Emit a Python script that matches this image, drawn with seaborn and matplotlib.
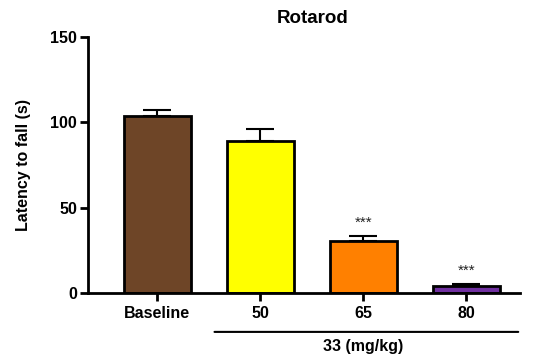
import matplotlib
matplotlib.use("Agg")
import matplotlib.pyplot as plt
import seaborn as sns
import pandas as pd
import numpy as np

categories = ["Baseline", "50", "65", "80"]
means = [104, 89, 30.5, 4]
sems = [3.5, 7, 3, 1.5]
colors = ["#6E4527", "#FFFF00", "#FF8000", "#7030A0"]
stars = ["", "", "***", "***"]
title = "Rotarod"
ylabel = "Latency to fall (s)"
group_label = "33 (mg/kg)"

sns.set_theme(style="ticks", rc={"axes.edgecolor": "black", "xtick.color": "black",
                                 "ytick.color": "black", "text.color": "black",
                                 "axes.labelcolor": "black"})
plt.rcParams['font.family'] = ['Liberation Sans', 'DejaVu Sans']

df = pd.DataFrame({"cat": categories, "val": means})
fig = plt.figure(figsize=(5.34, 3.56), dpi=100)
ax = fig.add_axes([0.1648, 0.177, 0.809, 0.719])
sns.barplot(data=df, x="cat", y="val", hue="cat", palette=colors, legend=False,
            width=0.65, edgecolor="black", linewidth=2, ax=ax, errorbar=None,
            saturation=1, zorder=2)
x = np.arange(len(categories))
ax.errorbar(x, means, yerr=[np.zeros(len(sems)), sems], fmt="none", ecolor="black",
            elinewidth=1.5, capsize=10, capthick=1.5, zorder=1)
for xi, m, s, st in zip(x, means, sems, stars):
    if st:
        ax.text(xi, m + s + 3.5, st, ha="center", va="bottom", fontsize=11, color="#222222")

ax.set_xlim(-0.67, 3.52)
ax.set_ylim(0, 150)
ax.set_yticks([0, 50, 100, 150])
for sp in ["top", "right"]:
    ax.spines[sp].set_visible(False)
for sp in ["left", "bottom"]:
    ax.spines[sp].set_linewidth(2)
ax.tick_params(axis="both", width=2, length=6, labelsize=11.5, direction="out",
               colors="black")
ax.tick_params(axis="y", pad=2)
for lab in ax.get_xticklabels() + ax.get_yticklabels():
    lab.set_fontweight("bold")
ax.set_xlabel("")
ax.set_ylabel(ylabel, fontsize=11.5, fontweight="bold", labelpad=14)
ax.set_title(title, fontsize=13.5, fontweight="bold", pad=10, x=0.52)

# grouping line under doses
ax.annotate("", xy=(0.53, -0.152), xytext=(3.53, -0.152), xycoords=("data", "axes fraction"),
            textcoords=("data", "axes fraction"),
            arrowprops=dict(arrowstyle="-", lw=1.5, color="black"), annotation_clip=False)
ax.text(2.0, -0.178, group_label, transform=ax.get_xaxis_transform(), ha="center", va="top",
        fontsize=11.5, fontweight="bold")

fig.savefig("out.png", dpi=100)
